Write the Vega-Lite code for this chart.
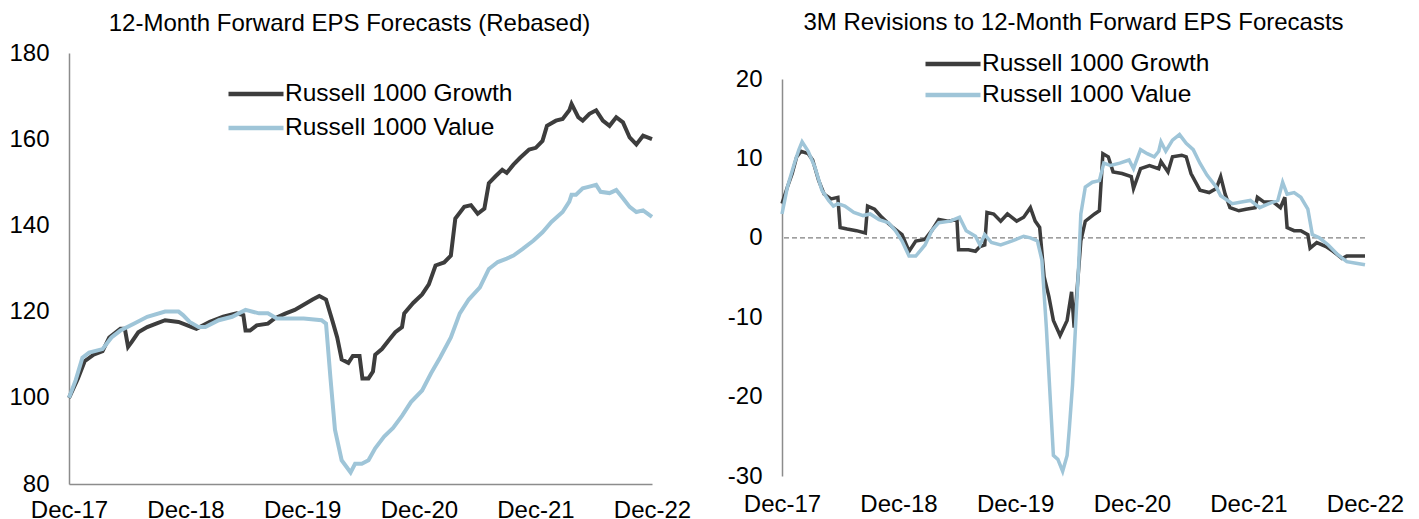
{
  "$schema": "https://vega.github.io/schema/vega-lite/v6.json",
  "padding": {"left": 8, "top": 11, "right": 5, "bottom": 5},
  "background": "white",
  "config": {
    "font": "Liberation Sans",
    "view": {"stroke": null},
    "axis": {"grid": false, "ticks": false, "tickSize": 0, "labelFontSize": 24, "labelColor": "#000000", "labelFont": "Liberation Sans", "domainColor": "#8c8c8c", "domainWidth": 1.5, "labelFlush": false, "labelOverlap": false, "labelBound": false, "title": null},
    "legend": {"labelFontSize": 24.5, "labelFont": "Liberation Sans", "labelColor": "#000000", "symbolType": "stroke", "symbolSize": 3025, "symbolStrokeWidth": 4.5, "clipHeight": 24, "labelOffset": -1, "padding": 0, "labelLimit": 400, "title": null},
    "title": {"font": "Liberation Sans", "fontSize": 24, "fontWeight": "normal", "color": "#000000", "frame": "group", "anchor": "middle"},
    "concat": {"spacing": 36}
  },
  "resolve": {"scale": {"color": "independent"}, "legend": {"color": "independent"}},
  "datasets": {
    "eps": [
      {"d": "2017-12-29", "s": "Russell 1000 Growth", "v": 100},
      {"d": "2018-01-26", "s": "Russell 1000 Growth", "v": 104.5},
      {"d": "2018-02-16", "s": "Russell 1000 Growth", "v": 108.5},
      {"d": "2018-03-16", "s": "Russell 1000 Growth", "v": 110},
      {"d": "2018-04-13", "s": "Russell 1000 Growth", "v": 110.8},
      {"d": "2018-05-04", "s": "Russell 1000 Growth", "v": 114},
      {"d": "2018-06-08", "s": "Russell 1000 Growth", "v": 116},
      {"d": "2018-06-22", "s": "Russell 1000 Growth", "v": 116},
      {"d": "2018-07-02", "s": "Russell 1000 Growth", "v": 111.8},
      {"d": "2018-07-13", "s": "Russell 1000 Growth", "v": 112.9},
      {"d": "2018-08-03", "s": "Russell 1000 Growth", "v": 115.2},
      {"d": "2018-08-31", "s": "Russell 1000 Growth", "v": 116.4},
      {"d": "2018-09-28", "s": "Russell 1000 Growth", "v": 117.2},
      {"d": "2018-10-26", "s": "Russell 1000 Growth", "v": 118},
      {"d": "2018-12-07", "s": "Russell 1000 Growth", "v": 117.6},
      {"d": "2019-01-18", "s": "Russell 1000 Growth", "v": 116.4},
      {"d": "2019-02-01", "s": "Russell 1000 Growth", "v": 116},
      {"d": "2019-03-15", "s": "Russell 1000 Growth", "v": 117.6},
      {"d": "2019-04-26", "s": "Russell 1000 Growth", "v": 118.8},
      {"d": "2019-06-07", "s": "Russell 1000 Growth", "v": 119.6},
      {"d": "2019-06-28", "s": "Russell 1000 Growth", "v": 119.2},
      {"d": "2019-07-05", "s": "Russell 1000 Growth", "v": 115.6},
      {"d": "2019-07-19", "s": "Russell 1000 Growth", "v": 115.6},
      {"d": "2019-08-09", "s": "Russell 1000 Growth", "v": 116.8},
      {"d": "2019-09-13", "s": "Russell 1000 Growth", "v": 117.2},
      {"d": "2019-10-04", "s": "Russell 1000 Growth", "v": 118.4},
      {"d": "2019-11-08", "s": "Russell 1000 Growth", "v": 119.6},
      {"d": "2019-12-06", "s": "Russell 1000 Growth", "v": 120.4},
      {"d": "2020-01-03", "s": "Russell 1000 Growth", "v": 121.6},
      {"d": "2020-01-31", "s": "Russell 1000 Growth", "v": 122.8},
      {"d": "2020-02-21", "s": "Russell 1000 Growth", "v": 123.6},
      {"d": "2020-03-13", "s": "Russell 1000 Growth", "v": 122.8},
      {"d": "2020-04-03", "s": "Russell 1000 Growth", "v": 117.6},
      {"d": "2020-04-17", "s": "Russell 1000 Growth", "v": 114},
      {"d": "2020-05-01", "s": "Russell 1000 Growth", "v": 108.9},
      {"d": "2020-05-22", "s": "Russell 1000 Growth", "v": 108.1},
      {"d": "2020-06-05", "s": "Russell 1000 Growth", "v": 109.7},
      {"d": "2020-06-26", "s": "Russell 1000 Growth", "v": 109.7},
      {"d": "2020-07-05", "s": "Russell 1000 Growth", "v": 104.5},
      {"d": "2020-07-24", "s": "Russell 1000 Growth", "v": 104.5},
      {"d": "2020-08-07", "s": "Russell 1000 Growth", "v": 106.1},
      {"d": "2020-08-14", "s": "Russell 1000 Growth", "v": 110},
      {"d": "2020-09-04", "s": "Russell 1000 Growth", "v": 111.3},
      {"d": "2020-09-25", "s": "Russell 1000 Growth", "v": 113.3},
      {"d": "2020-10-16", "s": "Russell 1000 Growth", "v": 115.2},
      {"d": "2020-11-06", "s": "Russell 1000 Growth", "v": 116.4},
      {"d": "2020-11-13", "s": "Russell 1000 Growth", "v": 119.6},
      {"d": "2020-12-11", "s": "Russell 1000 Growth", "v": 122},
      {"d": "2021-01-08", "s": "Russell 1000 Growth", "v": 124},
      {"d": "2021-01-29", "s": "Russell 1000 Growth", "v": 126.3},
      {"d": "2021-02-19", "s": "Russell 1000 Growth", "v": 130.7},
      {"d": "2021-03-18", "s": "Russell 1000 Growth", "v": 131.4},
      {"d": "2021-04-08", "s": "Russell 1000 Growth", "v": 133},
      {"d": "2021-04-22", "s": "Russell 1000 Growth", "v": 141.6},
      {"d": "2021-05-20", "s": "Russell 1000 Growth", "v": 144.3},
      {"d": "2021-06-10", "s": "Russell 1000 Growth", "v": 144.7},
      {"d": "2021-07-01", "s": "Russell 1000 Growth", "v": 142.7},
      {"d": "2021-07-22", "s": "Russell 1000 Growth", "v": 143.9},
      {"d": "2021-08-05", "s": "Russell 1000 Growth", "v": 149.8},
      {"d": "2021-08-26", "s": "Russell 1000 Growth", "v": 151.4},
      {"d": "2021-09-16", "s": "Russell 1000 Growth", "v": 152.9},
      {"d": "2021-09-30", "s": "Russell 1000 Growth", "v": 152.2},
      {"d": "2021-10-21", "s": "Russell 1000 Growth", "v": 154.1},
      {"d": "2021-11-11", "s": "Russell 1000 Growth", "v": 155.7},
      {"d": "2021-12-09", "s": "Russell 1000 Growth", "v": 157.6},
      {"d": "2021-12-30", "s": "Russell 1000 Growth", "v": 158},
      {"d": "2022-01-20", "s": "Russell 1000 Growth", "v": 159.6},
      {"d": "2022-02-03", "s": "Russell 1000 Growth", "v": 163.1},
      {"d": "2022-03-03", "s": "Russell 1000 Growth", "v": 164.3},
      {"d": "2022-03-24", "s": "Russell 1000 Growth", "v": 164.7},
      {"d": "2022-04-14", "s": "Russell 1000 Growth", "v": 166.7},
      {"d": "2022-04-21", "s": "Russell 1000 Growth", "v": 168.2},
      {"d": "2022-05-12", "s": "Russell 1000 Growth", "v": 165.1},
      {"d": "2022-05-26", "s": "Russell 1000 Growth", "v": 164.3},
      {"d": "2022-06-16", "s": "Russell 1000 Growth", "v": 165.9},
      {"d": "2022-07-07", "s": "Russell 1000 Growth", "v": 166.7},
      {"d": "2022-07-28", "s": "Russell 1000 Growth", "v": 164.3},
      {"d": "2022-08-18", "s": "Russell 1000 Growth", "v": 163.1},
      {"d": "2022-09-08", "s": "Russell 1000 Growth", "v": 165.1},
      {"d": "2022-09-29", "s": "Russell 1000 Growth", "v": 163.9},
      {"d": "2022-10-20", "s": "Russell 1000 Growth", "v": 160.4},
      {"d": "2022-11-10", "s": "Russell 1000 Growth", "v": 158.8},
      {"d": "2022-12-01", "s": "Russell 1000 Growth", "v": 160.8},
      {"d": "2022-12-29", "s": "Russell 1000 Growth", "v": 160},
      {"d": "2017-12-29", "s": "Russell 1000 Value", "v": 100},
      {"d": "2018-01-19", "s": "Russell 1000 Value", "v": 104.1},
      {"d": "2018-02-09", "s": "Russell 1000 Value", "v": 109.3},
      {"d": "2018-03-02", "s": "Russell 1000 Value", "v": 110.5},
      {"d": "2018-04-13", "s": "Russell 1000 Value", "v": 111.3},
      {"d": "2018-05-11", "s": "Russell 1000 Value", "v": 114},
      {"d": "2018-06-08", "s": "Russell 1000 Value", "v": 115.6},
      {"d": "2018-07-20", "s": "Russell 1000 Value", "v": 117.2},
      {"d": "2018-08-31", "s": "Russell 1000 Value", "v": 118.8},
      {"d": "2018-10-26", "s": "Russell 1000 Value", "v": 120},
      {"d": "2018-12-07", "s": "Russell 1000 Value", "v": 120},
      {"d": "2018-12-21", "s": "Russell 1000 Value", "v": 119.2},
      {"d": "2019-01-11", "s": "Russell 1000 Value", "v": 117.6},
      {"d": "2019-02-08", "s": "Russell 1000 Value", "v": 116.4},
      {"d": "2019-03-01", "s": "Russell 1000 Value", "v": 116.4},
      {"d": "2019-04-12", "s": "Russell 1000 Value", "v": 118},
      {"d": "2019-05-24", "s": "Russell 1000 Value", "v": 118.8},
      {"d": "2019-07-05", "s": "Russell 1000 Value", "v": 120.4},
      {"d": "2019-08-16", "s": "Russell 1000 Value", "v": 119.6},
      {"d": "2019-09-13", "s": "Russell 1000 Value", "v": 119.6},
      {"d": "2019-10-11", "s": "Russell 1000 Value", "v": 118.4},
      {"d": "2019-11-22", "s": "Russell 1000 Value", "v": 118.4},
      {"d": "2020-01-03", "s": "Russell 1000 Value", "v": 118.4},
      {"d": "2020-02-28", "s": "Russell 1000 Value", "v": 118},
      {"d": "2020-03-13", "s": "Russell 1000 Value", "v": 117.2},
      {"d": "2020-03-27", "s": "Russell 1000 Value", "v": 104.5},
      {"d": "2020-04-10", "s": "Russell 1000 Value", "v": 92.6},
      {"d": "2020-05-01", "s": "Russell 1000 Value", "v": 85.5},
      {"d": "2020-05-29", "s": "Russell 1000 Value", "v": 82.7},
      {"d": "2020-06-12", "s": "Russell 1000 Value", "v": 84.7},
      {"d": "2020-07-03", "s": "Russell 1000 Value", "v": 84.7},
      {"d": "2020-07-24", "s": "Russell 1000 Value", "v": 85.5},
      {"d": "2020-08-14", "s": "Russell 1000 Value", "v": 88.3},
      {"d": "2020-09-11", "s": "Russell 1000 Value", "v": 91},
      {"d": "2020-10-09", "s": "Russell 1000 Value", "v": 93},
      {"d": "2020-11-06", "s": "Russell 1000 Value", "v": 95.8},
      {"d": "2020-12-04", "s": "Russell 1000 Value", "v": 99},
      {"d": "2021-01-08", "s": "Russell 1000 Value", "v": 101.7},
      {"d": "2021-02-05", "s": "Russell 1000 Value", "v": 105.7},
      {"d": "2021-03-05", "s": "Russell 1000 Value", "v": 109.3},
      {"d": "2021-04-08", "s": "Russell 1000 Value", "v": 114},
      {"d": "2021-05-06", "s": "Russell 1000 Value", "v": 119.6},
      {"d": "2021-06-03", "s": "Russell 1000 Value", "v": 122.8},
      {"d": "2021-07-08", "s": "Russell 1000 Value", "v": 125.6},
      {"d": "2021-08-05", "s": "Russell 1000 Value", "v": 129.9},
      {"d": "2021-09-02", "s": "Russell 1000 Value", "v": 131.5},
      {"d": "2021-09-30", "s": "Russell 1000 Value", "v": 132.3},
      {"d": "2021-10-21", "s": "Russell 1000 Value", "v": 133},
      {"d": "2021-11-18", "s": "Russell 1000 Value", "v": 134.5},
      {"d": "2021-12-23", "s": "Russell 1000 Value", "v": 136.5},
      {"d": "2022-01-20", "s": "Russell 1000 Value", "v": 138.4},
      {"d": "2022-02-17", "s": "Russell 1000 Value", "v": 140.8},
      {"d": "2022-03-24", "s": "Russell 1000 Value", "v": 143.1},
      {"d": "2022-04-14", "s": "Russell 1000 Value", "v": 145.5},
      {"d": "2022-04-21", "s": "Russell 1000 Value", "v": 147.1},
      {"d": "2022-05-05", "s": "Russell 1000 Value", "v": 147.1},
      {"d": "2022-05-26", "s": "Russell 1000 Value", "v": 148.6},
      {"d": "2022-06-16", "s": "Russell 1000 Value", "v": 149},
      {"d": "2022-07-07", "s": "Russell 1000 Value", "v": 149.4},
      {"d": "2022-07-21", "s": "Russell 1000 Value", "v": 147.8},
      {"d": "2022-08-18", "s": "Russell 1000 Value", "v": 147.5},
      {"d": "2022-09-08", "s": "Russell 1000 Value", "v": 148.2},
      {"d": "2022-09-29", "s": "Russell 1000 Value", "v": 146.3},
      {"d": "2022-10-20", "s": "Russell 1000 Value", "v": 144.3},
      {"d": "2022-11-10", "s": "Russell 1000 Value", "v": 143.1},
      {"d": "2022-12-01", "s": "Russell 1000 Value", "v": 143.5},
      {"d": "2022-12-29", "s": "Russell 1000 Value", "v": 142}
    ],
    "rev": [
      {"d": "2017-12-29", "s": "Russell 1000 Growth", "v": 4.3},
      {"d": "2018-01-15", "s": "Russell 1000 Growth", "v": 6.4},
      {"d": "2018-01-30", "s": "Russell 1000 Growth", "v": 8.1},
      {"d": "2018-02-13", "s": "Russell 1000 Growth", "v": 10.2},
      {"d": "2018-02-27", "s": "Russell 1000 Growth", "v": 10.9},
      {"d": "2018-03-21", "s": "Russell 1000 Growth", "v": 10.6},
      {"d": "2018-04-04", "s": "Russell 1000 Growth", "v": 9.8},
      {"d": "2018-04-23", "s": "Russell 1000 Growth", "v": 7.2},
      {"d": "2018-05-10", "s": "Russell 1000 Growth", "v": 5.5},
      {"d": "2018-06-01", "s": "Russell 1000 Growth", "v": 4.9},
      {"d": "2018-06-22", "s": "Russell 1000 Growth", "v": 5.1},
      {"d": "2018-06-29", "s": "Russell 1000 Growth", "v": 1.3},
      {"d": "2018-07-21", "s": "Russell 1000 Growth", "v": 1.1},
      {"d": "2018-08-19", "s": "Russell 1000 Growth", "v": 0.9},
      {"d": "2018-09-16", "s": "Russell 1000 Growth", "v": 0.6},
      {"d": "2018-09-23", "s": "Russell 1000 Growth", "v": 4.0},
      {"d": "2018-10-15", "s": "Russell 1000 Growth", "v": 3.6},
      {"d": "2018-11-06", "s": "Russell 1000 Growth", "v": 2.6},
      {"d": "2018-12-11", "s": "Russell 1000 Growth", "v": 1.3},
      {"d": "2019-01-09", "s": "Russell 1000 Growth", "v": 0.4},
      {"d": "2019-01-31", "s": "Russell 1000 Growth", "v": -1.7},
      {"d": "2019-02-21", "s": "Russell 1000 Growth", "v": -0.4},
      {"d": "2019-03-22", "s": "Russell 1000 Growth", "v": -0.2},
      {"d": "2019-04-12", "s": "Russell 1000 Growth", "v": 0.9},
      {"d": "2019-05-04", "s": "Russell 1000 Growth", "v": 2.3},
      {"d": "2019-06-02", "s": "Russell 1000 Growth", "v": 2.1},
      {"d": "2019-06-30", "s": "Russell 1000 Growth", "v": 2.3},
      {"d": "2019-07-05", "s": "Russell 1000 Growth", "v": -1.5},
      {"d": "2019-08-05", "s": "Russell 1000 Growth", "v": -1.5},
      {"d": "2019-08-27", "s": "Russell 1000 Growth", "v": -1.7},
      {"d": "2019-09-10", "s": "Russell 1000 Growth", "v": -1.1},
      {"d": "2019-09-25", "s": "Russell 1000 Growth", "v": -0.9},
      {"d": "2019-10-02", "s": "Russell 1000 Growth", "v": 3.2},
      {"d": "2019-10-23", "s": "Russell 1000 Growth", "v": 3.0},
      {"d": "2019-11-14", "s": "Russell 1000 Growth", "v": 2.1},
      {"d": "2019-12-05", "s": "Russell 1000 Growth", "v": 3.0},
      {"d": "2020-01-03", "s": "Russell 1000 Growth", "v": 2.1},
      {"d": "2020-01-25", "s": "Russell 1000 Growth", "v": 2.6},
      {"d": "2020-02-15", "s": "Russell 1000 Growth", "v": 3.8},
      {"d": "2020-03-01", "s": "Russell 1000 Growth", "v": 2.1},
      {"d": "2020-03-15", "s": "Russell 1000 Growth", "v": 1.3},
      {"d": "2020-03-29", "s": "Russell 1000 Growth", "v": -4.9},
      {"d": "2020-04-13", "s": "Russell 1000 Growth", "v": -7.4},
      {"d": "2020-04-27", "s": "Russell 1000 Growth", "v": -10.4},
      {"d": "2020-05-18", "s": "Russell 1000 Growth", "v": -12.3},
      {"d": "2020-06-09", "s": "Russell 1000 Growth", "v": -10.4},
      {"d": "2020-06-23", "s": "Russell 1000 Growth", "v": -6.8},
      {"d": "2020-07-01", "s": "Russell 1000 Growth", "v": -11.3},
      {"d": "2020-07-22", "s": "Russell 1000 Growth", "v": -0.4},
      {"d": "2020-08-05", "s": "Russell 1000 Growth", "v": 2.1},
      {"d": "2020-09-03", "s": "Russell 1000 Growth", "v": 3.0},
      {"d": "2020-09-18", "s": "Russell 1000 Growth", "v": 3.4},
      {"d": "2020-09-29", "s": "Russell 1000 Growth", "v": 10.6},
      {"d": "2020-10-16", "s": "Russell 1000 Growth", "v": 10.2},
      {"d": "2020-10-31", "s": "Russell 1000 Growth", "v": 8.3},
      {"d": "2020-11-28", "s": "Russell 1000 Growth", "v": 8.1},
      {"d": "2020-12-27", "s": "Russell 1000 Growth", "v": 7.7},
      {"d": "2021-01-03", "s": "Russell 1000 Growth", "v": 6.2},
      {"d": "2021-01-25", "s": "Russell 1000 Growth", "v": 8.7},
      {"d": "2021-02-22", "s": "Russell 1000 Growth", "v": 9.1},
      {"d": "2021-03-23", "s": "Russell 1000 Growth", "v": 8.7},
      {"d": "2021-03-30", "s": "Russell 1000 Growth", "v": 9.6},
      {"d": "2021-04-21", "s": "Russell 1000 Growth", "v": 8.3},
      {"d": "2021-05-05", "s": "Russell 1000 Growth", "v": 10.2},
      {"d": "2021-06-03", "s": "Russell 1000 Growth", "v": 10.4},
      {"d": "2021-06-17", "s": "Russell 1000 Growth", "v": 10.2},
      {"d": "2021-07-02", "s": "Russell 1000 Growth", "v": 8.1},
      {"d": "2021-07-30", "s": "Russell 1000 Growth", "v": 6.0},
      {"d": "2021-08-28", "s": "Russell 1000 Growth", "v": 5.7},
      {"d": "2021-09-19", "s": "Russell 1000 Growth", "v": 6.2},
      {"d": "2021-10-03", "s": "Russell 1000 Growth", "v": 7.7},
      {"d": "2021-10-17", "s": "Russell 1000 Growth", "v": 5.5},
      {"d": "2021-11-01", "s": "Russell 1000 Growth", "v": 3.8},
      {"d": "2021-11-29", "s": "Russell 1000 Growth", "v": 3.4},
      {"d": "2021-12-21", "s": "Russell 1000 Growth", "v": 3.6},
      {"d": "2022-01-19", "s": "Russell 1000 Growth", "v": 3.8},
      {"d": "2022-01-26", "s": "Russell 1000 Growth", "v": 5.1},
      {"d": "2022-02-16", "s": "Russell 1000 Growth", "v": 4.5},
      {"d": "2022-03-17", "s": "Russell 1000 Growth", "v": 4.5},
      {"d": "2022-04-08", "s": "Russell 1000 Growth", "v": 3.8},
      {"d": "2022-04-22", "s": "Russell 1000 Growth", "v": 5.1},
      {"d": "2022-04-29", "s": "Russell 1000 Growth", "v": 1.3},
      {"d": "2022-05-21", "s": "Russell 1000 Growth", "v": 0.9},
      {"d": "2022-06-11", "s": "Russell 1000 Growth", "v": 0.9},
      {"d": "2022-07-03", "s": "Russell 1000 Growth", "v": 0.4},
      {"d": "2022-07-10", "s": "Russell 1000 Growth", "v": -1.3},
      {"d": "2022-07-31", "s": "Russell 1000 Growth", "v": -0.6},
      {"d": "2022-08-29", "s": "Russell 1000 Growth", "v": -1.1},
      {"d": "2022-09-20", "s": "Russell 1000 Growth", "v": -1.7},
      {"d": "2022-10-18", "s": "Russell 1000 Growth", "v": -2.6},
      {"d": "2022-11-02", "s": "Russell 1000 Growth", "v": -2.3},
      {"d": "2022-12-29", "s": "Russell 1000 Growth", "v": -2.3},
      {"d": "2017-12-29", "s": "Russell 1000 Value", "v": 3.0},
      {"d": "2018-01-15", "s": "Russell 1000 Value", "v": 6.4},
      {"d": "2018-02-06", "s": "Russell 1000 Value", "v": 9.4},
      {"d": "2018-02-20", "s": "Russell 1000 Value", "v": 11.1},
      {"d": "2018-03-02", "s": "Russell 1000 Value", "v": 12.1},
      {"d": "2018-03-21", "s": "Russell 1000 Value", "v": 10.9},
      {"d": "2018-04-11", "s": "Russell 1000 Value", "v": 8.9},
      {"d": "2018-05-03", "s": "Russell 1000 Value", "v": 6.0},
      {"d": "2018-05-24", "s": "Russell 1000 Value", "v": 4.7},
      {"d": "2018-06-08", "s": "Russell 1000 Value", "v": 4.0},
      {"d": "2018-06-22", "s": "Russell 1000 Value", "v": 4.3},
      {"d": "2018-07-14", "s": "Russell 1000 Value", "v": 4.0},
      {"d": "2018-08-11", "s": "Russell 1000 Value", "v": 3.2},
      {"d": "2018-09-09", "s": "Russell 1000 Value", "v": 2.8},
      {"d": "2018-10-01", "s": "Russell 1000 Value", "v": 3.0},
      {"d": "2018-10-29", "s": "Russell 1000 Value", "v": 2.3},
      {"d": "2018-11-27", "s": "Russell 1000 Value", "v": 1.9},
      {"d": "2018-12-19", "s": "Russell 1000 Value", "v": 0.9},
      {"d": "2019-01-09", "s": "Russell 1000 Value", "v": -0.4},
      {"d": "2019-01-31", "s": "Russell 1000 Value", "v": -2.3},
      {"d": "2019-02-21", "s": "Russell 1000 Value", "v": -2.3},
      {"d": "2019-03-22", "s": "Russell 1000 Value", "v": -0.9},
      {"d": "2019-04-12", "s": "Russell 1000 Value", "v": 0.9},
      {"d": "2019-05-04", "s": "Russell 1000 Value", "v": 1.9},
      {"d": "2019-06-09", "s": "Russell 1000 Value", "v": 2.1},
      {"d": "2019-07-08", "s": "Russell 1000 Value", "v": 2.6},
      {"d": "2019-07-29", "s": "Russell 1000 Value", "v": 0.9},
      {"d": "2019-08-27", "s": "Russell 1000 Value", "v": 0.2},
      {"d": "2019-09-10", "s": "Russell 1000 Value", "v": -0.9},
      {"d": "2019-09-25", "s": "Russell 1000 Value", "v": 0.4},
      {"d": "2019-10-16", "s": "Russell 1000 Value", "v": -0.6},
      {"d": "2019-11-14", "s": "Russell 1000 Value", "v": -0.9},
      {"d": "2019-12-20", "s": "Russell 1000 Value", "v": -0.4},
      {"d": "2020-01-25", "s": "Russell 1000 Value", "v": 0.2},
      {"d": "2020-02-15", "s": "Russell 1000 Value", "v": 0},
      {"d": "2020-03-08", "s": "Russell 1000 Value", "v": -0.4},
      {"d": "2020-03-22", "s": "Russell 1000 Value", "v": -2.8},
      {"d": "2020-04-05", "s": "Russell 1000 Value", "v": -11.3},
      {"d": "2020-04-20", "s": "Russell 1000 Value", "v": -22.3},
      {"d": "2020-04-27", "s": "Russell 1000 Value", "v": -27.4},
      {"d": "2020-05-11", "s": "Russell 1000 Value", "v": -27.9},
      {"d": "2020-05-26", "s": "Russell 1000 Value", "v": -29.4},
      {"d": "2020-06-09", "s": "Russell 1000 Value", "v": -27.4},
      {"d": "2020-06-16", "s": "Russell 1000 Value", "v": -24.0},
      {"d": "2020-06-26", "s": "Russell 1000 Value", "v": -18.5},
      {"d": "2020-07-08", "s": "Russell 1000 Value", "v": -9.1},
      {"d": "2020-07-15", "s": "Russell 1000 Value", "v": -3.6},
      {"d": "2020-07-22", "s": "Russell 1000 Value", "v": 3.0},
      {"d": "2020-08-05", "s": "Russell 1000 Value", "v": 6.4},
      {"d": "2020-08-27", "s": "Russell 1000 Value", "v": 7.0},
      {"d": "2020-09-18", "s": "Russell 1000 Value", "v": 7.2},
      {"d": "2020-10-02", "s": "Russell 1000 Value", "v": 9.4},
      {"d": "2020-10-23", "s": "Russell 1000 Value", "v": 9.1},
      {"d": "2020-11-21", "s": "Russell 1000 Value", "v": 9.4},
      {"d": "2020-12-20", "s": "Russell 1000 Value", "v": 9.8},
      {"d": "2021-01-03", "s": "Russell 1000 Value", "v": 8.7},
      {"d": "2021-01-25", "s": "Russell 1000 Value", "v": 11.1},
      {"d": "2021-02-15", "s": "Russell 1000 Value", "v": 10.6},
      {"d": "2021-03-09", "s": "Russell 1000 Value", "v": 10.2},
      {"d": "2021-03-23", "s": "Russell 1000 Value", "v": 10.9},
      {"d": "2021-03-30", "s": "Russell 1000 Value", "v": 12.1},
      {"d": "2021-04-14", "s": "Russell 1000 Value", "v": 10.9},
      {"d": "2021-05-05", "s": "Russell 1000 Value", "v": 12.3},
      {"d": "2021-05-27", "s": "Russell 1000 Value", "v": 13.0},
      {"d": "2021-06-17", "s": "Russell 1000 Value", "v": 11.9},
      {"d": "2021-07-09", "s": "Russell 1000 Value", "v": 11.1},
      {"d": "2021-07-30", "s": "Russell 1000 Value", "v": 9.4},
      {"d": "2021-08-21", "s": "Russell 1000 Value", "v": 7.9},
      {"d": "2021-09-19", "s": "Russell 1000 Value", "v": 6.4},
      {"d": "2021-10-03", "s": "Russell 1000 Value", "v": 5.3},
      {"d": "2021-10-25", "s": "Russell 1000 Value", "v": 4.7},
      {"d": "2021-11-08", "s": "Russell 1000 Value", "v": 4.3},
      {"d": "2021-12-07", "s": "Russell 1000 Value", "v": 4.5},
      {"d": "2022-01-04", "s": "Russell 1000 Value", "v": 4.7},
      {"d": "2022-02-02", "s": "Russell 1000 Value", "v": 3.8},
      {"d": "2022-03-03", "s": "Russell 1000 Value", "v": 4.3},
      {"d": "2022-03-31", "s": "Russell 1000 Value", "v": 4.7},
      {"d": "2022-04-15", "s": "Russell 1000 Value", "v": 7.0},
      {"d": "2022-04-29", "s": "Russell 1000 Value", "v": 5.5},
      {"d": "2022-05-21", "s": "Russell 1000 Value", "v": 5.7},
      {"d": "2022-06-11", "s": "Russell 1000 Value", "v": 5.1},
      {"d": "2022-07-03", "s": "Russell 1000 Value", "v": 3.6},
      {"d": "2022-07-17", "s": "Russell 1000 Value", "v": 0.4},
      {"d": "2022-08-08", "s": "Russell 1000 Value", "v": 0},
      {"d": "2022-09-05", "s": "Russell 1000 Value", "v": -0.9},
      {"d": "2022-10-04", "s": "Russell 1000 Value", "v": -2.1},
      {"d": "2022-11-02", "s": "Russell 1000 Value", "v": -3.0},
      {"d": "2022-12-01", "s": "Russell 1000 Value", "v": -3.2},
      {"d": "2022-12-29", "s": "Russell 1000 Value", "v": -3.4}
    ]
  },
  "hconcat": [
    {
      "width": 583,
      "height": 431,
      "title": {"text": "12-Month Forward EPS Forecasts (Rebased)", "offset": 5, "dx": -11},
      "data": {"name": "eps"},
      "mark": {"type": "line", "strokeWidth": 4},
      "encoding": {
        "x": {
          "field": "d", "type": "temporal",
          "scale": {"type": "utc", "domain": [{"year": 2017, "month": 12, "date": 29, "utc": true}, {"year": 2022, "month": 12, "date": 29, "utc": true}]},
          "axis": {"values": [
            {"year": 2017, "month": 12, "date": 29, "utc": true},
            {"year": 2018, "month": 12, "date": 29, "utc": true},
            {"year": 2019, "month": 12, "date": 29, "utc": true},
            {"year": 2020, "month": 12, "date": 29, "utc": true},
            {"year": 2021, "month": 12, "date": 29, "utc": true},
            {"year": 2022, "month": 12, "date": 29, "utc": true}
          ], "format": "%b-%y", "labelPadding": 14, "domain": true}
        },
        "y": {
          "field": "v", "type": "quantitative",
          "scale": {"domain": [80, 180], "nice": false, "zero": false},
          "axis": {"values": [80, 100, 120, 140, 160, 180], "labelPadding": 20}
        },
        "color": {
          "field": "s", "type": "nominal",
          "scale": {"domain": ["Russell 1000 Growth", "Russell 1000 Value"], "range": ["#3d3d3d", "#9fc5d8"]},
          "legend": {"orient": "none", "legendX": 157, "legendY": 29, "rowPadding": 9}
        }
      }
    },
    {
      "width": 583,
      "height": 423,
      "title": {"text": "3M Revisions to 12-Month Forward EPS Forecasts", "offset": 17, "dx": 0},
      "layer": [
        {
          "data": {"values": [{}]},
          "mark": {"type": "rule", "strokeDash": [5, 3], "color": "#808080", "strokeWidth": 1.3},
          "encoding": {"y": {"datum": 0, "type": "quantitative", "scale": {"domain": [-30, 20], "nice": false, "zero": false, "range": [423, 26]}}}
        },
        {
          "data": {"name": "rev"},
          "mark": {"type": "line", "strokeWidth": 3.5},
          "encoding": {
            "x": {
              "field": "d", "type": "temporal",
              "scale": {"type": "utc", "domain": [{"year": 2017, "month": 12, "date": 29, "utc": true}, {"year": 2022, "month": 12, "date": 29, "utc": true}]},
              "axis": {"values": [
                {"year": 2017, "month": 12, "date": 29, "utc": true},
                {"year": 2018, "month": 12, "date": 29, "utc": true},
                {"year": 2019, "month": 12, "date": 29, "utc": true},
                {"year": 2020, "month": 12, "date": 29, "utc": true},
                {"year": 2021, "month": 12, "date": 29, "utc": true},
                {"year": 2022, "month": 12, "date": 29, "utc": true}
              ], "format": "%b-%y", "labelPadding": 16, "domain": false}
            },
            "y": {
              "field": "v", "type": "quantitative",
              "scale": {"domain": [-30, 20], "nice": false, "zero": false, "range": [423, 26]},
              "axis": {"values": [-30, -20, -10, 0, 10, 20], "labelPadding": 20, "labelExpr": "'' + datum.value"}
            },
            "color": {
              "field": "s", "type": "nominal",
              "scale": {"domain": ["Russell 1000 Growth", "Russell 1000 Value"], "range": ["#3d3d3d", "#9fc5d8"]},
              "legend": {"orient": "none", "legendX": 141, "legendY": -1, "rowPadding": 6}
            }
          }
        }
      ]
    }
  ]
}
